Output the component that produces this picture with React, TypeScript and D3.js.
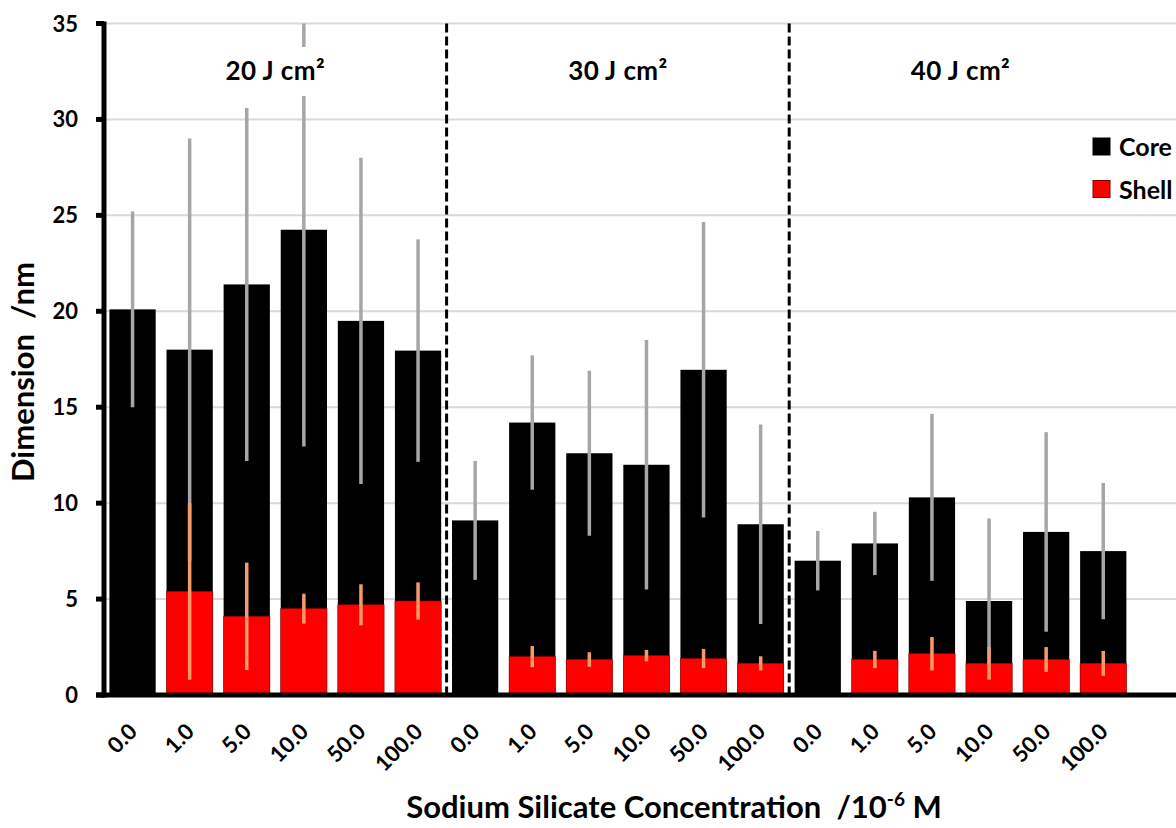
import React, { useEffect, useRef } from "react";
import * as d3 from "d3";

// fluence groups and silicate concentrations
const groups = ["20 J cm²", "30 J cm²", "40 J cm²"];
const concentrations = ["0.0", "1.0", "5.0", "10.0", "50.0", "100.0"];

// core (black) bar heights and errors, per group in order
const coreValues = [
  20.1, 18.0, 21.4, 24.25, 19.5, 17.95,
  9.1, 14.2, 12.6, 12.0, 16.95, 8.9,
  7.0, 7.9, 10.3, 4.9, 8.5, 7.5,
];
const coreErrors = [
  5.1, 11.0, 9.2, 11.3, 8.5, 5.8,
  3.1, 3.5, 4.3, 6.5, 7.7, 5.2,
  1.55, 1.65, 4.35, 4.3, 5.2, 3.55,
];
// shell (red) bar heights and errors
const shellValues = [
  0, 5.4, 4.1, 4.5, 4.7, 4.9,
  0, 2.0, 1.85, 2.05, 1.9, 1.65,
  0, 1.85, 2.15, 1.65, 1.85, 1.65,
];
const shellErrors = [
  0, 4.6, 2.8, 0.78, 1.07, 0.97,
  0, 0.55, 0.38, 0.3, 0.5, 0.37,
  0, 0.45, 0.87, 0.85, 0.65, 0.65,
];
const yTicks = [0, 5, 10, 15, 20, 25, 30, 35];

const FONT = "Lato, 'Open Sans', sans-serif";

const App = () => {
  const chartRef = useRef<SVGSVGElement | null>(null);

  useEffect(() => {
    const width = 1176;
    const height = 828;
    const left = 104;
    const plotTop = 23.5;
    const plotBottom = 695;

    const svg = d3.select(chartRef.current);
    svg.selectAll("*").remove();

    const keys = groups.flatMap((g) => concentrations.map((c) => `${g}|${c}`));
    const rows = keys.map((k, i) => ({
      key: k,
      conc: k.split("|")[1],
      core: coreValues[i],
      coreErr: coreErrors[i],
      shell: shellValues[i],
      shellErr: shellErrors[i],
    }));

    const x = d3
      .scaleBand()
      .domain(keys)
      .range([left, left + 18 * 57.1])
      .paddingInner(0.19)
      .paddingOuter(0.095);

    const y = d3.scaleLinear().domain([0, 35]).range([plotBottom, plotTop]);

    // grid lines
    svg
      .append("g")
      .selectAll("line")
      .data(yTicks.filter((t) => t > 0))
      .join("line")
      .attr("x1", left)
      .attr("x2", width)
      .attr("y1", (d) => y(d))
      .attr("y2", (d) => y(d))
      .attr("stroke", "#d9d9d9")
      .attr("stroke-width", 2);

    // core bars
    svg
      .append("g")
      .selectAll("rect")
      .data(rows)
      .join("rect")
      .attr("x", (d) => x(d.key)!)
      .attr("width", x.bandwidth())
      .attr("y", (d) => y(d.core))
      .attr("height", (d) => y(0) - y(d.core))
      .attr("fill", "#000");

    // core error bars (clipped at the axis top)
    const clip = (v: number) => Math.min(v, 35);
    svg
      .append("g")
      .selectAll("line")
      .data(rows)
      .join("line")
      .attr("x1", (d) => x(d.key)! + x.bandwidth() / 2)
      .attr("x2", (d) => x(d.key)! + x.bandwidth() / 2)
      .attr("y1", (d) => y(clip(d.core + d.coreErr)))
      .attr("y2", (d) => y(d.core - d.coreErr))
      .attr("stroke", "#a6a6a6")
      .attr("stroke-width", 3.5);

    // shell bars
    const shellRows = rows.filter((d) => d.shell > 0);
    svg
      .append("g")
      .selectAll("rect")
      .data(shellRows)
      .join("rect")
      .attr("x", (d) => x(d.key)!)
      .attr("width", x.bandwidth())
      .attr("y", (d) => y(d.shell))
      .attr("height", (d) => y(0) - y(d.shell))
      .attr("fill", "#ff0000")
      .attr("stroke", "#a00000")
      .attr("stroke-width", 0.6);

    svg
      .append("g")
      .selectAll("line")
      .data(shellRows)
      .join("line")
      .attr("x1", (d) => x(d.key)! + x.bandwidth() / 2)
      .attr("x2", (d) => x(d.key)! + x.bandwidth() / 2)
      .attr("y1", (d) => y(d.shell + d.shellErr))
      .attr("y2", (d) => y(d.shell - d.shellErr))
      .attr("stroke", "#f79a6a")
      .attr("stroke-width", 3.5);

    // dashed group separators
    const step = x.step();
    [6, 12].forEach((i) => {
      const xs = x(keys[i])! - (step - x.bandwidth()) / 2;
      svg
        .append("line")
        .attr("x1", xs)
        .attr("x2", xs)
        .attr("y1", plotTop)
        .attr("y2", plotBottom)
        .attr("stroke", "#000")
        .attr("stroke-width", 3)
        .attr("stroke-dasharray", "9,4");
    });

    // group labels with white boxes behind them
    groups.forEach((g, gi) => {
      const cx = (x(keys[gi * 6])! + x(keys[gi * 6 + 5])! + x.bandwidth()) / 2;
      svg
        .append("rect")
        .attr("x", cx - 62)
        .attr("y", 47)
        .attr("width", 124)
        .attr("height", 49)
        .attr("fill", "#fff");
      svg
        .append("text")
        .attr("x", cx)
        .attr("y", 80)
        .attr("text-anchor", "middle")
        .attr("font-family", FONT)
        .attr("font-weight", "bold")
        .attr("font-size", 26)
        .attr("letter-spacing", 0.4)
        .text(g);
    });

    // y axis
    svg
      .append("line")
      .attr("x1", left)
      .attr("x2", left)
      .attr("y1", plotTop - 2)
      .attr("y2", plotBottom + 2.5)
      .attr("stroke", "#000")
      .attr("stroke-width", 5);

    const yt = svg.append("g");
    yt.selectAll("line")
      .data(yTicks)
      .join("line")
      .attr("x1", 96)
      .attr("x2", left)
      .attr("y1", (d) => y(d))
      .attr("y2", (d) => y(d))
      .attr("stroke", "#000")
      .attr("stroke-width", 5);
    yt.selectAll("text")
      .data(yTicks)
      .join("text")
      .attr("x", 78)
      .attr("y", (d) => y(d) + 8)
      .attr("text-anchor", "end")
      .attr("font-family", FONT)
      .attr("font-weight", "bold")
      .attr("font-size", 22)
      .text((d) => d);

    // x axis
    svg
      .append("line")
      .attr("x1", 96)
      .attr("x2", width)
      .attr("y1", plotBottom)
      .attr("y2", plotBottom)
      .attr("stroke", "#000")
      .attr("stroke-width", 5);

    svg
      .append("g")
      .selectAll("text")
      .data(rows)
      .join("text")
      .attr("transform", (d) => {
        const cx = x(d.key)! + x.bandwidth() / 2 + 6;
        return `translate(${cx},${733}) rotate(-45)`;
      })
      .attr("text-anchor", "end")
      .attr("font-family", FONT)
      .attr("font-weight", "bold")
      .attr("font-size", 22)
      .text((d) => d.conc);

    // legend
    const legend = svg.append("g").attr("transform", "translate(1093,138)");
    [
      { name: "Core", fill: "#000", stroke: "#000" },
      { name: "Shell", fill: "#ff0000", stroke: "#7f0000" },
    ].forEach((item, i) => {
      legend
        .append("rect")
        .attr("x", 0)
        .attr("y", i * 42.5)
        .attr("width", 17)
        .attr("height", 17)
        .attr("fill", item.fill)
        .attr("stroke", item.stroke)
        .attr("stroke-width", 1);
      legend
        .append("text")
        .attr("x", 26)
        .attr("y", i * 42.5 + 18)
        .attr("font-family", FONT)
        .attr("font-weight", "bold")
        .attr("font-size", 25)
        .text(item.name);
    });

    // axis titles
    svg
      .append("text")
      .attr("transform", `translate(34,${372}) rotate(-90)`)
      .attr("text-anchor", "middle")
      .attr("font-family", FONT)
      .attr("font-weight", "bold")
      .attr("font-size", 31)
      .attr("xml:space", "preserve")
      .text("Dimension  /nm");

    const xt = svg
      .append("text")
      .attr("x", 674)
      .attr("y", 818)
      .attr("text-anchor", "middle")
      .attr("font-family", FONT)
      .attr("font-weight", "bold")
      .attr("font-size", 31)
      .attr("xml:space", "preserve");
    xt.append("tspan").text("Sodium Silicate Concentration  /10");
    xt.append("tspan").attr("dy", -12).attr("font-size", 19).text("-6");
    xt.append("tspan").attr("dy", 12).text(" M");
  }, []);

  return (
    <svg
      ref={chartRef}
      width={1176}
      height={828}
      style={{ position: "absolute", left: 0, top: 0, background: "#fff" }}
    />
  );
};

export default App;
